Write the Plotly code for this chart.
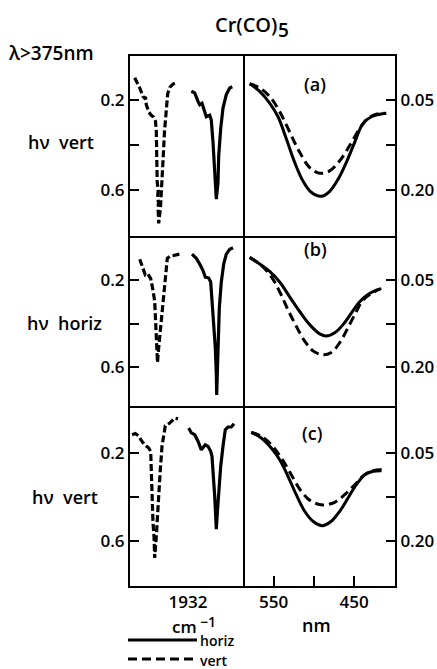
import plotly.graph_objects as go

# ---------------- data ----------------
# IR region (wavenumber, cm-1) ; absorbance (left axis)
ir_a_vert_x = [1985.3, 1980.3, 1977.0, 1975.5, 1974.5, 1973.7, 1971.3, 1969.0, 1966.5, 1964.5, 1963.7, 1963.2, 1962.8,
               1961.8, 1962.4, 1961.5, 1962.0, 1961.5, 1961.3, 1959.5, 1958.5, 1957.7, 1956.5, 1955.5, 1954.5, 1953.5,
               1952.3, 1950.0, 1947.0, 1943.0]
ir_a_vert_y = [0.100, 0.145, 0.183, 0.190, 0.185, 0.220, 0.251, 0.266, 0.275, 0.293, 0.338, 0.451, 0.564,
               0.600, 0.632, 0.655, 0.677, 0.722, 0.748, 0.677, 0.610, 0.519, 0.428, 0.338, 0.270, 0.216,
               0.171, 0.141, 0.128, 0.121]
ir_a_horiz_x = [1928.7, 1925.3, 1922.0, 1920.3, 1918.0, 1916.0, 1913.7, 1910.3, 1908.7, 1907.0, 1905.3, 1904.3, 1903.7,
                1902.0, 1901.3, 1899.3, 1897.0, 1893.7, 1890.3, 1887.7]
ir_a_horiz_y = [0.160, 0.167, 0.205, 0.220, 0.213, 0.243, 0.273, 0.266, 0.288, 0.386, 0.492, 0.582, 0.640,
                0.567, 0.447, 0.326, 0.235, 0.175, 0.145, 0.140]

ir_b_vert_x = [1980.3, 1977.0, 1974.7, 1972.0, 1969.3, 1967.0, 1965.3, 1964.7, 1963.7, 1963.2, 1962.5, 1961.3, 1960.3,
               1958.7, 1957.0, 1955.3, 1953.7, 1952.7, 1950.3, 1945.3, 1938.7]
ir_b_vert_y = [0.106, 0.150, 0.178, 0.173, 0.195, 0.248, 0.300, 0.360, 0.435, 0.510, 0.578, 0.510, 0.465,
               0.390, 0.315, 0.210, 0.135, 0.102, 0.093, 0.088, 0.081]
ir_b_horiz_x = [1928.0, 1923.7, 1920.3, 1917.0, 1914.7, 1911.3, 1909.3, 1908.0, 1906.3, 1904.7, 1903.7, 1903.3, 1902.7,
                1902.0, 1900.7, 1898.7, 1896.3, 1893.7, 1890.3, 1887.0]
ir_b_horiz_y = [0.083, 0.102, 0.128, 0.158, 0.188, 0.192, 0.210, 0.285, 0.375, 0.510, 0.630, 0.727, 0.630,
                0.480, 0.330, 0.210, 0.128, 0.083, 0.061, 0.054]

ir_c_vert_x = [1988.0, 1984.7, 1981.3, 1978.7, 1975.3, 1971.3, 1969.3, 1969.1, 1968.7, 1968.0, 1967.0, 1966.0, 1965.3,
               1963.7, 1962.7, 1961.3, 1959.7, 1958.0, 1956.0, 1954.7, 1950.3, 1945.3, 1942.0]
ir_c_vert_y = [0.115, 0.110, 0.120, 0.141, 0.161, 0.176, 0.191, 0.229, 0.320, 0.427, 0.518, 0.579, 0.678,
               0.579, 0.488, 0.381, 0.275, 0.168, 0.107, 0.074, 0.062, 0.039, 0.043]
ir_c_horiz_x = [1931.3, 1928.7, 1925.3, 1922.0, 1918.7, 1914.7, 1912.0, 1909.3, 1908.0, 1906.7, 1905.3, 1904.3, 1903.7,
                1902.7, 1901.3, 1899.3, 1897.0, 1894.7, 1892.0, 1888.7, 1886.0]
ir_c_horiz_y = [0.084, 0.107, 0.115, 0.145, 0.184, 0.161, 0.168, 0.191, 0.214, 0.290, 0.396, 0.488, 0.546,
                0.473, 0.366, 0.259, 0.168, 0.092, 0.080, 0.080, 0.065]

# visible region (nm) ; absorbance (right axis)
uv_a_horiz_x = [579.9, 567.4, 555.0, 544.6, 534.3, 523.8, 513.5, 503.2, 490.7, 480.3, 469.9, 459.6, 449.1, 438.8, 428.4, 418.0, 409.8]
uv_a_horiz_y = [0.0225, 0.0351, 0.0547, 0.0775, 0.1141, 0.1538, 0.1849, 0.2036, 0.2103, 0.2019, 0.1820, 0.1538, 0.1199, 0.0887, 0.0775, 0.0734, 0.0717]
uv_a_vert_x = [579.9, 567.4, 555.0, 542.5, 530.1, 517.6, 505.2, 492.7, 480.3, 467.8, 455.4, 442.9, 432.6, 422.2, 411.8]
uv_a_vert_y = [0.0225, 0.0293, 0.0436, 0.0690, 0.1029, 0.1369, 0.1623, 0.1718, 0.1679, 0.1510, 0.1255, 0.0972, 0.0802, 0.0734, 0.0717]

uv_b_horiz_x = [579.9, 567.4, 555.0, 542.5, 530.1, 517.6, 505.2, 492.7, 484.5, 474.0, 463.7, 453.4, 442.9, 432.6, 422.2, 416.0]
uv_b_horiz_y = [0.0117, 0.0230, 0.0358, 0.0539, 0.0792, 0.1044, 0.1269, 0.1427, 0.1466, 0.1410, 0.1269, 0.1073, 0.0876, 0.0753, 0.0679, 0.0652]
uv_b_vert_x = [579.9, 567.4, 557.1, 548.8, 540.5, 532.2, 521.9, 511.4, 501.1, 488.6, 478.3, 467.8, 457.7, 447.1, 438.8, 428.4, 418.0]
uv_b_vert_y = [0.0117, 0.0230, 0.0370, 0.0539, 0.0763, 0.1016, 0.1297, 0.1550, 0.1719, 0.1786, 0.1747, 0.1579, 0.1326, 0.1044, 0.0847, 0.0736, 0.0662]

uv_c_horiz_x = [577.9, 565.4, 553.0, 542.5, 532.2, 521.9, 511.4, 501.1, 489.5, 478.3, 467.8, 457.5, 447.1, 436.7, 426.3, 416.0]
uv_c_horiz_y = [0.0140, 0.0238, 0.0409, 0.0610, 0.0894, 0.1209, 0.1493, 0.1664, 0.1740, 0.1664, 0.1493, 0.1265, 0.1038, 0.0866, 0.0808, 0.0798]
uv_c_vert_x = [577.9, 565.4, 553.0, 540.5, 528.1, 515.6, 503.2, 488.6, 474.0, 461.6, 449.1, 436.7, 426.3, 416.0, 409.8]
uv_c_vert_y = [0.0140, 0.0209, 0.0353, 0.0580, 0.0866, 0.1151, 0.1322, 0.1385, 0.1339, 0.1209, 0.1038, 0.0866, 0.0798, 0.0781, 0.0808]

ir_tick_vals = [1932]
ir_tick_text = ["1932"]
nm_tick_vals = [550, 500, 450]
nm_tick_text = ["550", "", "450"]
left_tick_vals = [0.2, 0.4, 0.6]
left_tick_text = ["0.2", "", "0.6"]
right_tick_vals = [0.05, 0.125, 0.20]
right_tick_text = ["0.05", "", "0.20"]
panel_labels = ["(a)", "(b)", "(c)"]
row_labels = ["h\u03bd  vert", "h\u03bd  horiz", "h\u03bd  vert"]

# ---------------- figure ----------------
FONT = "Open Sans"
WEIGHT = 600
fig = go.Figure()

ir_sets = [(ir_a_horiz_x, ir_a_horiz_y, ir_a_vert_x, ir_a_vert_y),
           (ir_b_horiz_x, ir_b_horiz_y, ir_b_vert_x, ir_b_vert_y),
           (ir_c_horiz_x, ir_c_horiz_y, ir_c_vert_x, ir_c_vert_y)]
uv_sets = [(uv_a_horiz_x, uv_a_horiz_y, uv_a_vert_x, uv_a_vert_y),
           (uv_b_horiz_x, uv_b_horiz_y, uv_b_vert_x, uv_b_vert_y),
           (uv_c_horiz_x, uv_c_horiz_y, uv_c_vert_x, uv_c_vert_y)]

for r in range(3):
    lx = "x" if r == 0 else f"x{2*r+1}"
    ly = "y" if r == 0 else f"y{2*r+1}"
    rx = f"x{2*r+2}"
    ry = f"y{2*r+2}"
    hx, hy, vx, vy = ir_sets[r]
    fig.add_trace(go.Scatter(x=hx, y=hy, xaxis=lx, yaxis=ly, mode="lines",
                             line=dict(color="black", width=3.2), showlegend=False))
    fig.add_trace(go.Scatter(x=vx, y=vy, xaxis=lx, yaxis=ly, mode="lines",
                             line=dict(color="black", width=3.2, dash="7px,3px"), showlegend=False))
    hx, hy, vx, vy = uv_sets[r]
    fig.add_trace(go.Scatter(x=hx, y=hy, xaxis=rx, yaxis=ry, mode="lines", line_shape="spline",
                             line=dict(color="black", width=3), showlegend=False))
    fig.add_trace(go.Scatter(x=vx, y=vy, xaxis=rx, yaxis=ry, mode="lines", line_shape="spline",
                             line=dict(color="black", width=3, dash="9px,5px"), showlegend=False))

split = 115 / 265
row_dom = [[350 / 530, 1.0], [180 / 530, 350 / 530], [0.0, 180 / 530]]
left_ranges = [[0.804, 0.003], [0.777, 0.0], [0.806, -0.016]]
tickfont = dict(family=FONT, size=17, color="black", weight=WEIGHT)

layout = dict(width=437, height=669, margin=dict(l=130, r=42, t=56, b=83, autoexpand=False),
              plot_bgcolor="white", paper_bgcolor="white", showlegend=False)
for r in range(3):
    li = 2 * r + 1
    ri = 2 * r + 2
    lname = "" if li == 1 else str(li)
    rname = str(ri)
    bottom = (r == 2)
    top = (r == 0)
    common = dict(showgrid=False, zeroline=False, automargin=False, linecolor="black", linewidth=2,
                  tickwidth=2, tickcolor="black", tickfont=tickfont, showline=True)
    layout["xaxis" + lname] = dict(domain=[0, split], range=[1990, 1875], anchor="y" + lname,
                                   mirror=top, ticks="",
                                   tickvals=ir_tick_vals, ticktext=ir_tick_text,
                                   showticklabels=bottom, **common)
    layout["yaxis" + lname] = dict(domain=row_dom[r], range=left_ranges[r], anchor="x" + lname,
                                   mirror=False, ticks="inside", ticklen=9,
                                   tickvals=left_tick_vals, ticktext=left_tick_text, **common)
    lr = left_ranges[r]
    layout["xaxis" + rname] = dict(domain=[split, 1], range=[585.7, 399], anchor="y" + rname,
                                   mirror=top, ticks="inside" if bottom else "", ticklen=10,
                                   tickvals=nm_tick_vals, ticktext=nm_tick_text,
                                   showticklabels=bottom, **common)
    layout["yaxis" + rname] = dict(domain=row_dom[r], anchor="x" + rname, side="right",
                                   range=[lr[0] * 0.375 - 0.025, lr[1] * 0.375 - 0.025],
                                   mirror=True, ticks="inside", ticklen=9,
                                   tickvals=right_tick_vals, ticktext=right_tick_text, **common)
fig.update_layout(**layout)


def px2paper(px, py):
    return (px - 130) / 265, (586 - py) / 530


def note(text, px, py, size=18, xanchor="center"):
    x, y = px2paper(px, py)
    fig.add_annotation(text=text, x=x, y=y, xref="paper", yref="paper", showarrow=False,
                       xanchor=xanchor, yanchor="middle", borderpad=0,
                       font=dict(family=FONT, size=size, color="black", weight=WEIGHT))


note("Cr(CO)", 278, 24, size=20, xanchor="right")
note("5", 277, 30, size=19, xanchor="left")
note("\u03bb>375nm", 7, 53, size=19, xanchor="left")
for r, (py_row, px_row) in enumerate([(142, 27), (323, 26), (497, 31)]):
    note(row_labels[r], px_row, py_row, xanchor="left")
for lab, (px_l, py_l) in zip(panel_labels, [(315, 84), (315, 249), (312, 433)]):
    note(lab, px_l, py_l)
note("cm", 198, 626, size=17, xanchor="right")
note("\u22121", 199, 621, size=14, xanchor="left")
note("nm", 316, 625, size=18)
note("horiz", 199, 640, size=14, xanchor="left")
note("vert", 199, 660, size=14, xanchor="left")

# legend samples
x0, y0 = px2paper(128, 640)
x1, _ = px2paper(197, 640)
fig.add_shape(type="line", xref="paper", yref="paper", x0=x0, x1=x1, y0=y0, y1=y0,
              line=dict(color="black", width=3))
x0, y0 = px2paper(128, 659)
x1, _ = px2paper(196, 659)
fig.add_shape(type="line", xref="paper", yref="paper", x0=x0, x1=x1, y0=y0, y1=y0,
              line=dict(color="black", width=3, dash="9px,5px"))

fig.write_html("out.html", config={"displayModeBar": False},
               post_script="document.body.style.margin='0px';")
